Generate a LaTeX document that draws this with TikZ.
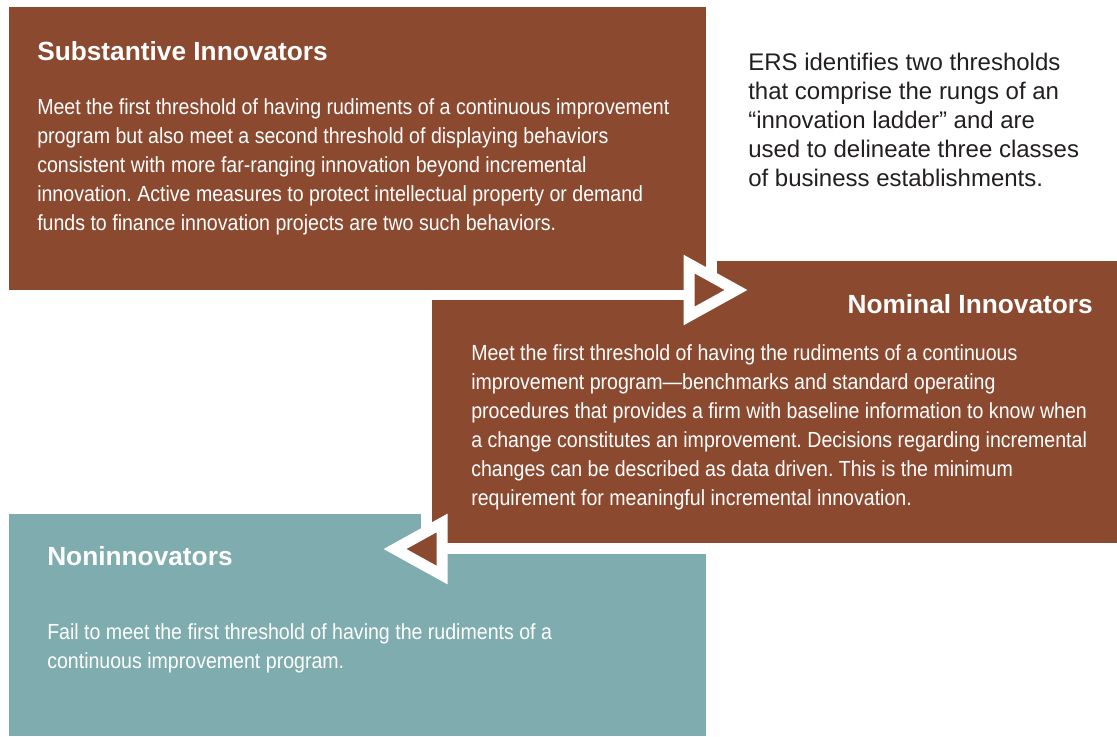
\documentclass[tikz,border=0pt]{standalone}
\usepackage{fontspec}
\setmainfont{Liberation Sans}
\newfontfamily\condfont[FakeStretch=0.895]{Liberation Sans}
\definecolor{rust}{HTML}{8B4A30}
\definecolor{tealbox}{HTML}{7FACAE}
\definecolor{ink}{HTML}{231F20}
\frenchspacing
\begin{document}
\begin{tikzpicture}[x=0.75pt,y=-0.75pt,
  titletext/.style={font=\fontsize{19.7}{23}\selectfont\bfseries, text=white, inner sep=0, anchor=base west},
  bodytext/.style={font=\condfont\fontsize{16.4}{21.75}\selectfont, text=white, inner sep=0, align=left, anchor=base west},
  sidetext/.style={font=\fontsize{18}{21.75}\selectfont, text=ink, inner sep=0, align=left, anchor=base west},
  marker/.style={fill=rust, draw=white, line width=8.25pt, line join=miter, miter limit=10}]
\useasboundingbox (0,0) rectangle (1117,736);
% boxes
\fill[tealbox] (9,514) rectangle (706,736);
\fill[white] (421,250) rectangle (1117,554);
\fill[rust] (432,261) rectangle (1117,543);
\fill[white] (0,0) rectangle (717,300);
\fill[rust] (9,7) rectangle (706,290);
% markers
\draw[marker] (689,264) -- (689,316) -- (736,290) -- cycle;
\draw[marker] (442,523) -- (442,575) -- (395,549) -- cycle;
% texts (multi-line nodes are anchored at the baseline of their last line)
\node[titletext] (t1) at (37,60) {Substantive Innovators};
\node[bodytext] (b1) at (37,230.5) {Meet the first threshold of having rudiments of a continuous improvement\\program but also meet a second threshold of displaying behaviors\\consistent with more far-ranging innovation beyond incremental\\innovation. Active measures to protect intellectual property or demand\\funds to finance innovation projects are two such behaviors.};
\node[titletext, anchor=base east] (t2) at (1093,313) {Nominal Innovators};
\node[bodytext] (b2) at (471,505) {Meet the first threshold of having the rudiments of a continuous\\improvement program—benchmarks and standard operating\\procedures that provides a firm with baseline information to know when\\a change constitutes an improvement. Decisions regarding incremental\\changes can be described as data driven. This is the minimum\\requirement for meaningful incremental innovation.};
\node[titletext] (t3) at (47,565) {Noninnovators};
\node[bodytext] (b3) at (47,668) {Fail to meet the first threshold of having the rudiments of a\\continuous improvement program.};
\node[sidetext] (s) at (748,186) {ERS identifies two thresholds\\that comprise the rungs of an\\“innovation ladder” and are\\used to delineate three classes\\of business establishments.};
\end{tikzpicture}
\end{document}
